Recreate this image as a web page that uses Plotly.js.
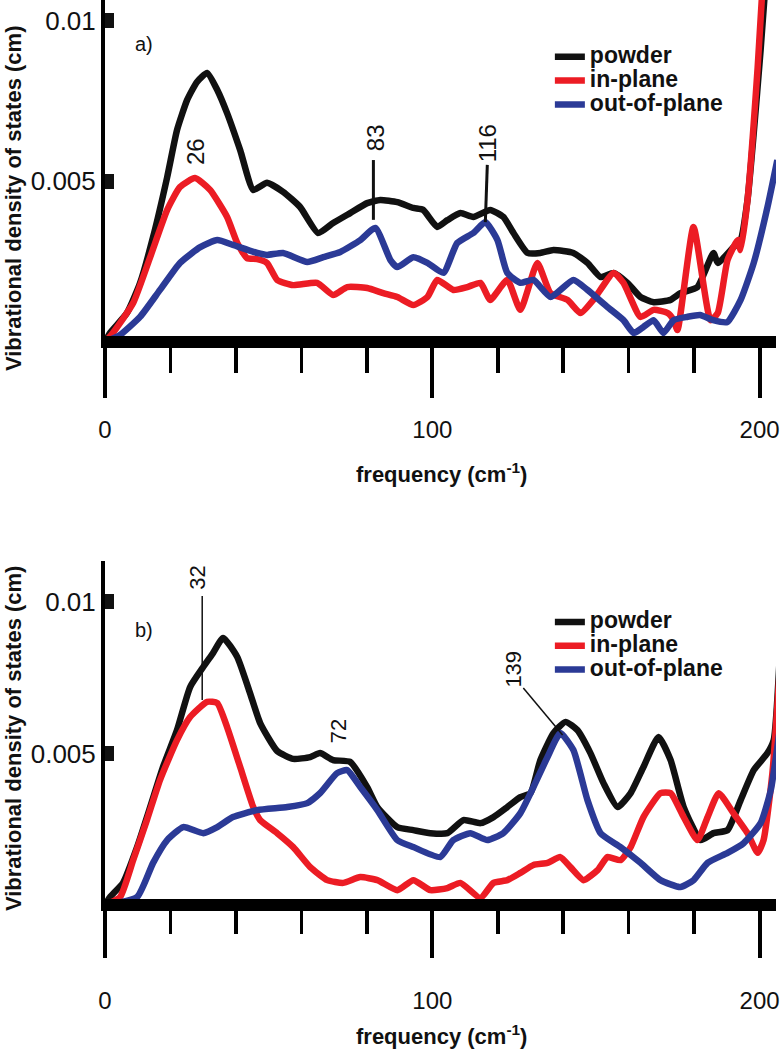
<!DOCTYPE html>
<html><head><meta charset="utf-8">
<script src="https://cdn.plot.ly/plotly-3.0.1.min.js"></script>
<style>html,body{margin:0;padding:0;background:#fff}#chart{width:781px;height:1050px}</style>
</head><body><div id="chart"></div>
<script>
// ---------- data ----------
const seriesNames = ['powder', 'in-plane', 'out-of-plane'];
const seriesColors = ['#111111', '#ec1c24', '#2b3a96'];

// panel a)
const aPowderX = [0,1.5,6.7,10.7,14.7,19.0,22.0,25.1,28.1,31.2,34.3,37.3,41.3,45.3,49.5,54.4,59.6,65.1,69.7,74.9,80.1,84.1,89.3,94.2,97.2,101.5,104.6,108.6,112.5,117.7,121.7,124.8,129.1,133.0,137.0,143.1,147.4,151.4,155.4,159.6,163.6,167.6,172.8,175.8,181.0,185.9,187.2,192.0,194.2,196.3,198.2,200.3,202.1];
const aPowderY = [0,0.00028,0.0009,0.00183,0.00327,0.00513,0.00659,0.00753,0.00809,0.00837,0.00784,0.00712,0.00597,0.00473,0.00495,0.00467,0.0042,0.00339,0.0037,0.00401,0.00432,0.00442,0.00435,0.00417,0.00411,0.00358,0.00379,0.00401,0.00389,0.00411,0.00389,0.00339,0.00277,0.00277,0.00286,0.00277,0.00246,0.00202,0.00215,0.00184,0.0014,0.00124,0.00131,0.00152,0.00171,0.00277,0.00246,0.00295,0.00317,0.00442,0.0065,0.00908,0.01157];
const aInPlaneX = [0,2.4,8.6,13.8,19.0,22.9,27.5,32.1,37.3,40.4,43.4,46.5,49.5,52.6,57.5,64.8,69.7,74.0,80.1,85.0,89.3,94.2,98.5,101.5,106.4,110.7,114.7,117.7,122.9,126.9,132.1,136.1,141.3,145.3,149.2,155.4,158.4,163.6,167.6,171.9,173.7,174.9,179.8,185.0,187.2,190.2,193.3,194.2,196.3,199.4,201.2];
const aInPlaneY = [0,0.00028,0.00121,0.00264,0.00411,0.00482,0.0051,0.00473,0.00389,0.00308,0.00261,0.00258,0.00246,0.00193,0.00177,0.00184,0.00146,0.00171,0.00168,0.00152,0.0014,0.00115,0.0014,0.00193,0.00162,0.00171,0.00184,0.00131,0.00193,0.001,0.00246,0.00152,0.00131,0.0009,0.00131,0.00215,0.00184,0.00078,0.001,0.0009,0.00068,0.00037,0.00358,0.00068,0.0009,0.00255,0.00317,0.00286,0.00442,0.00855,0.01157];
const aOutPlaneX = [0,4.6,10.7,16.8,22.9,29.1,34.3,39.1,46.5,49.5,54.4,61.8,66.7,71.9,78.0,82.6,87.2,89.3,94.2,98.5,103.4,107.6,112.5,116.2,119.9,122.9,126.9,130.9,136.1,143.1,147.4,153.5,158.4,161.5,164.5,167.6,170.6,173.7,177.8,181.8,185.8,190.1,194.2,198.2,202.4,205.4];
const aOutPlaneY = [0,0.00022,0.00078,0.00162,0.00246,0.00295,0.00317,0.00302,0.00277,0.00271,0.00277,0.00249,0.00264,0.0028,0.00317,0.00355,0.00255,0.00233,0.00264,0.00246,0.00215,0.00308,0.00339,0.00373,0.00317,0.00215,0.00184,0.00193,0.0014,0.00193,0.00162,0.00109,0.00068,0.00028,0.00047,0.00068,0.00028,0.00068,0.00078,0.00084,0.00068,0.00062,0.00131,0.00246,0.0042,0.00566];

// panel b)
const bPowderX = [0,1.5,5.5,9.8,13.8,17.7,22.0,26.0,30.0,33.0,36.1,40.4,44.3,47.4,52.6,57.5,62.7,65.7,69.7,74.9,80.1,83.2,89.3,94.2,99.4,104.6,109.5,114.7,118.7,122.9,126.9,130.0,133.0,137.0,140.7,144.3,148.3,152.3,156.6,160.6,164.5,169.1,172.8,176.8,182.0,185.9,190.2,194.2,198.2,202.4,204.3,206.4];
const bPowderY = [0,0.00026,0.00073,0.00191,0.00323,0.00455,0.00577,0.00719,0.00785,0.00831,0.00881,0.00818,0.00699,0.006,0.00508,0.00482,0.00488,0.00501,0.00478,0.00472,0.00389,0.00323,0.00257,0.00247,0.00237,0.00237,0.0028,0.0027,0.0029,0.00323,0.00356,0.00369,0.00478,0.00567,0.00604,0.00577,0.00501,0.00402,0.00323,0.00369,0.00455,0.00554,0.00478,0.00323,0.00214,0.00237,0.00247,0.00346,0.00445,0.00501,0.00544,0.00874];
const bInPlaneX = [0,4.6,8.6,12.8,16.8,22.0,26.0,31.2,34.3,37.3,41.3,45.3,47.4,52.6,57.5,62.7,67.9,72.8,78.0,83.2,89.3,94.2,99.4,104.6,108.6,114.7,118.7,122.9,126.9,130.9,135.2,139.1,142.2,146.2,150.5,153.5,157.5,160.6,164.5,169.7,172.8,176.8,181.0,184.1,187.5,192.0,196.3,199.4,201.2,203.9,206.4];
const bInPlaneY = [0,0.00026,0.00148,0.0028,0.00412,0.00544,0.0062,0.0067,0.00666,0.00587,0.00455,0.00323,0.0028,0.00237,0.00191,0.00125,0.00082,0.00073,0.00092,0.00082,0.00049,0.00082,0.00049,0.00056,0.00073,0.00023,0.00073,0.00082,0.00106,0.00132,0.00139,0.00158,0.00125,0.00082,0.00115,0.00158,0.00148,0.00191,0.0029,0.00369,0.00369,0.0029,0.00214,0.0029,0.00369,0.00303,0.00237,0.00172,0.00214,0.00435,0.00818];
const bOutPlaneX = [0,9.8,14.7,19.0,23.9,30.0,34.3,39.1,46.5,55.7,61.8,65.7,70.9,74.0,78.0,83.2,89.3,94.2,102.4,106.4,111.6,116.8,121.7,126.9,130.9,135.2,139.1,143.1,147.4,151.4,157.5,163.6,169.7,175.8,179.8,184.1,190.2,195.1,200.3,203.4,206.4];
const bOutPlaneY = [0,0.00026,0.00139,0.00214,0.00257,0.00237,0.00257,0.0029,0.00313,0.00323,0.00336,0.00369,0.00435,0.00445,0.00389,0.00313,0.00214,0.00191,0.00158,0.00214,0.00237,0.00214,0.00237,0.00303,0.00389,0.00488,0.00567,0.00511,0.00346,0.00237,0.00191,0.00139,0.00082,0.00059,0.00082,0.00139,0.00172,0.00204,0.0027,0.00379,0.006];

// ticks
const xTickVals = [0, 100, 200];
const xTickText = ['0', '100', '200'];
const yTickVals = [0.005, 0.01];
const yTickText = ['0.005', '0.01'];

// peak labels
const aPeakText = ['26', '83', '116'];
const aPeakX = [27.5, 82.9, 116.8];
const aPeakY = [0.00591, 0.00635, 0.00619];
const bPeakText = ['32', '72', '139'];
const bPeakX = [28.4, 71.6, 124.8];
const bPeakY = [0.01079, 0.00574, 0.00778];

// ---------- figure ----------
const FONT = 'Liberation Sans, Arial, sans-serif';
function trace(x, y, i, xa, ya, lg) {
  return {
    x: x, y: y, type: 'scatter', mode: 'lines',
    name: '<span style="font-size:23px">' + seriesNames[i] + '</span>',
    line: {color: seriesColors[i], width: 6.5, shape: 'spline', smoothing: 0.5},
    xaxis: xa, yaxis: ya, legend: lg, hoverinfo: 'skip'
  };
}
const data = [
  trace(aPowderX, aPowderY, 0, 'x', 'y', 'legend'),
  trace(aInPlaneX, aInPlaneY, 1, 'x', 'y', 'legend'),
  trace(aOutPlaneX, aOutPlaneY, 2, 'x', 'y', 'legend'),
  trace(bPowderX, bPowderY, 0, 'x2', 'y2', 'legend2'),
  trace(bInPlaneX, bInPlaneY, 1, 'x2', 'y2', 'legend2'),
  trace(bOutPlaneX, bOutPlaneY, 2, 'x2', 'y2', 'legend2')
];

function xAxis(anchor, majorLen, minorLen, standoff) {
  return {
    anchor: anchor, domain: [0, 1], range: [0, 205],
    showline: true, linewidth: 12, linecolor: '#000',
    showgrid: false, zeroline: false,
    ticks: 'outside', ticklen: majorLen, tickwidth: 4, tickcolor: '#000',
    tickmode: 'array', tickvals: xTickVals, ticktext: xTickText,
    ticklabelstandoff: standoff,
    tickfont: {family: FONT, size: 24, color: '#111'},
    minor: {ticks: 'outside', tickmode: 'linear', tick0: 0, dtick: 20, ticklen: minorLen, tickwidth: 3.5, tickcolor: '#000', showgrid: false}
  };
}
function yAxis(anchor, domain, range) {
  return {
    anchor: anchor, domain: domain, range: range,
    showline: true, linewidth: 4, linecolor: '#000',
    showgrid: false, zeroline: false,
    ticks: 'inside', ticklen: 9, tickwidth: 15, tickcolor: '#111',
    tickmode: 'array', tickvals: yTickVals, ticktext: yTickText,
    tickfont: {family: FONT, size: 26, color: '#111'}
  };
}

const annotations = [];
function addText(txt, x, y, xref, yref, size, bold, angle) {
  annotations.push({text: txt, x: x, y: y, xref: xref, yref: yref, showarrow: false,
    xanchor: 'center', yanchor: 'middle', textangle: angle || 0,
    font: {family: FONT, size: size, color: '#111', weight: bold ? 'bold' : 'normal'}});
}
aPeakText.forEach((t, i) => addText(t, aPeakX[i], aPeakY[i], 'x', 'y', 24, false, -90));
bPeakText.forEach((t, i) => addText(t, bPeakX[i], bPeakY[i], 'x2', 'y2', 22, false, -90));
addText('a)', 0.0581, 0.9581, 'paper', 'paper', 20, false, 0);
addText('b)', 0.0581, 0.4, 'paper', 'paper', 20, false, 0);
addText('Vibrational density of states (cm)', -0.137, 0.8114, 'paper', 'paper', 22, true, -90);
addText('Vibrational density of states (cm)', -0.137, 0.2971, 'paper', 'paper', 22, true, -90);
addText('frequency (cm<sup>-1</sup>)', 0.502, 0.5495, 'paper', 'paper', 22, true, 0);
addText('frequency (cm<sup>-1</sup>)', 0.502, 0.0143, 'paper', 'paper', 22, true, 0);

// leader lines from labels to peaks
const shapes = [
  {type: 'line', xref: 'x', yref: 'y', x0: 82.0, y0: 0.00566, x1: 82.0, y1: 0.0038, line: {color: '#111', width: 3}},
  {type: 'line', xref: 'x', yref: 'y', x0: 116.8, y0: 0.00551, x1: 116.2, y1: 0.00373, line: {color: '#111', width: 3}},
  {type: 'line', xref: 'x2', yref: 'y2', x0: 29.7, y0: 0.01019, x1: 29.7, y1: 0.00676, line: {color: '#111', width: 1.5}},
  {type: 'line', xref: 'x2', yref: 'y2', x0: 127.8, y0: 0.00716, x1: 139.8, y1: 0.00561, line: {color: '#111', width: 1.5}}
];

const legendBase = {xanchor: 'left', yanchor: 'top', bgcolor: 'rgba(0,0,0,0)', borderwidth: 0,
  itemwidth: 30, tracegroupgap: 0,
  font: {family: FONT, size: 16, color: '#111', weight: 'bold'}};

const layout = {
  width: 781, height: 1050,
  margin: {l: 105, r: 5, t: 0, b: 0, pad: 0},
  paper_bgcolor: '#fff', plot_bgcolor: 'rgba(0,0,0,0)',
  showlegend: true,
  xaxis: xAxis('y', 50, 25, 11),
  yaxis: yAxis('x', [0.68, 1], [0.000187, 0.010638]),
  xaxis2: xAxis('y2', 47, 23, 22),
  yaxis2: yAxis('x2', [0.14381, 0.46571], [0.000198, 0.011346]),
  legend: Object.assign({x: 0.663, y: 0.962}, legendBase),
  legend2: Object.assign({x: 0.663, y: 0.4238}, legendBase),
  annotations: annotations,
  shapes: shapes
};

function dropEmptyTexts() {
  // remove empty placeholder <text> nodes (e.g. unused axis titles)
  document.querySelectorAll('#chart svg text').forEach(function (n) {
    if (!n.textContent || !n.textContent.trim()) n.remove();
  });
}
Plotly.newPlot('chart', data, layout, {displayModeBar: false, staticPlot: true}).then(function () {
  dropEmptyTexts();
  setTimeout(dropEmptyTexts, 50);
});
</script>
</body></html>
